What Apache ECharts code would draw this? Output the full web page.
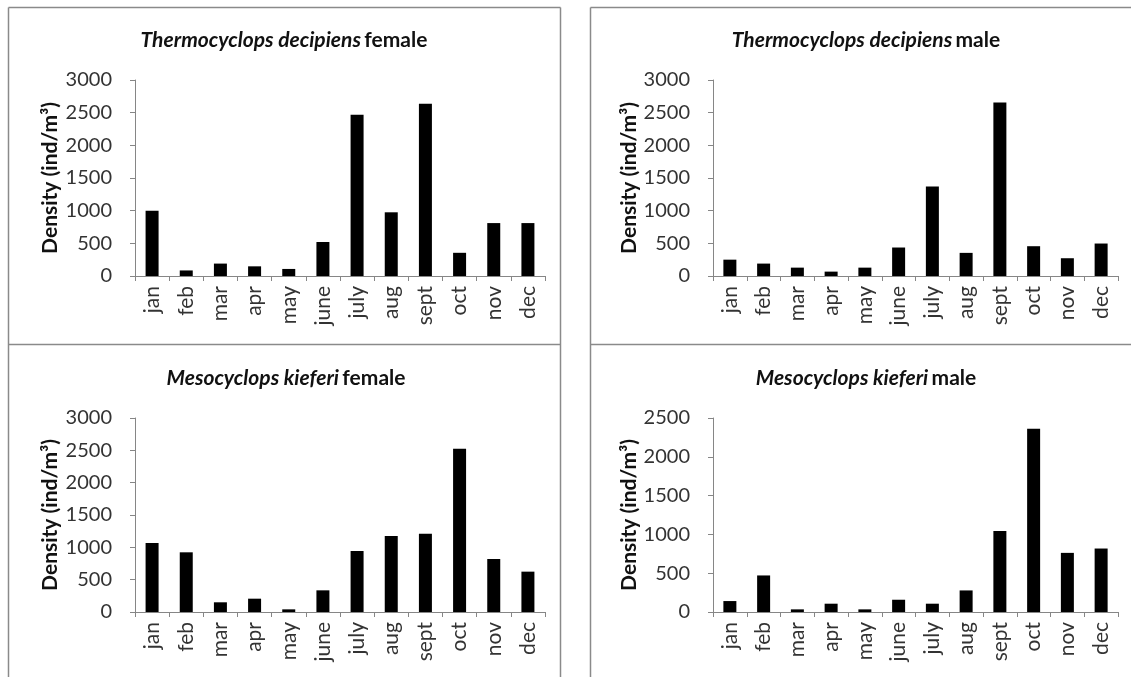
<!DOCTYPE html>
<html>
<head>
<meta charset="utf-8">
<title>Copepod density by month</title>
<script src="https://cdn.jsdelivr.net/npm/echarts@6/dist/echarts.min.js"></script>
<style>
  html, body { margin: 0; padding: 0; background: #ffffff; }
  #chart { width: 1131px; height: 677px; }
</style>
</head>
<body>
<div id="chart"></div>
<script>
// Monthly densities (ind/m³)
const months = ['jan', 'feb', 'mar', 'apr', 'may', 'june', 'july', 'aug', 'sept', 'oct', 'nov', 'dec'];
const thermoFemale = [1000, 85, 190, 148, 108, 520, 2470, 975, 2635, 355, 810, 810];
const thermoMale = [250, 190, 128, 67, 128, 436, 1369, 354, 2656, 456, 272, 497];
const mesoFemale = [1067, 923, 150, 206, 41, 335, 943, 1175, 1211, 2526, 820, 624];
const mesoMale = [141, 471, 34, 107, 34, 158, 107, 278, 1045, 2363, 762, 818];

const speciesNames = ['Thermocyclops decipiens', 'Thermocyclops decipiens', 'Mesocyclops kieferi', 'Mesocyclops kieferi'];
const sexNames = ['female', 'male', 'female', 'male'];
const yMaxes = [3000, 3000, 3000, 2500];
const yName = 'Density (ind/m³)';

const FONT = 'Lato, "Open Sans", sans-serif';
const AXIS_GRAY = '#868686';
const BORDER_GRAY = '#8a8a8a';

const seriesData = [thermoFemale, thermoMale, mesoFemale, mesoMale];

// Plot areas of the four panels
const grids = [
  { left: 135, top: 80, width: 410, height: 196 },
  { left: 713, top: 80, width: 405, height: 196 },
  { left: 135, top: 418, width: 410, height: 194 },
  { left: 713, top: 418, width: 405, height: 194 }
];
const titleCenters = [[284, 40], [866, 40], [286, 378], [866, 378]];

const xAxes = grids.map((g, i) => ({
  type: 'category',
  gridIndex: i,
  data: months,
  axisLine: { lineStyle: { color: AXIS_GRAY, width: 1 } },
  axisTick: { show: true, length: 5, lineStyle: { color: AXIS_GRAY } },
  axisLabel: { rotate: 90, margin: 10, fontFamily: FONT, fontSize: 21, color: '#333333', interval: 0 }
}));

const yAxes = grids.map((g, i) => ({
  type: 'value',
  gridIndex: i,
  min: 0,
  max: yMaxes[i],
  interval: 500,
  name: yName,
  nameLocation: 'middle',
  nameGap: i % 2 === 0 ? 74 : 72,
  nameTextStyle: { fontFamily: FONT, fontSize: 21, fontWeight: 'bold', color: '#111111' },
  axisLine: { show: true, lineStyle: { color: AXIS_GRAY, width: 1 } },
  axisTick: { show: true, length: 5, lineStyle: { color: AXIS_GRAY } },
  axisLabel: { margin: 23, fontFamily: FONT, fontSize: 20, color: '#333333', formatter: v => String(v) },
  splitLine: { show: false }
}));

const series = seriesData.map((d, i) => ({
  type: 'bar',
  xAxisIndex: i,
  yAxisIndex: i,
  data: d,
  barWidth: 13,
  itemStyle: { color: '#000000' },
  silent: true
}));

// Panel titles: species in bold italic, sex in bold
const titleGraphics = titleCenters.map((c, i) => ({
  type: 'text',
  x: c[0],
  y: c[1],
  style: {
    text: '{sp|' + speciesNames[i] + '} {sx|' + sexNames[i] + '}',
    align: 'center',
    verticalAlign: 'middle',
    rich: {
      sp: { fontFamily: FONT, fontSize: 21, fontWeight: 'bold', fontStyle: 'italic', fill: '#111111' },
      sx: { fontFamily: FONT, fontSize: 21, fontWeight: 'bold', fill: '#111111' }
    }
  }
}));

// Panel frame lines
const frameLines = [
  [8.5, 7.5, 560.5, 7.5],
  [8.5, 344.5, 560.5, 344.5],
  [8.5, 7.5, 8.5, 677],
  [560.5, 7.5, 560.5, 677],
  [590.5, 7.5, 1131, 7.5],
  [590.5, 344.5, 1131, 344.5],
  [590.5, 7.5, 590.5, 677]
].map(p => ({
  type: 'line',
  shape: { x1: p[0], y1: p[1], x2: p[2], y2: p[3] },
  style: { stroke: BORDER_GRAY, lineWidth: 1.5 },
  silent: true
}));

const chart = echarts.init(document.getElementById('chart'), null, { renderer: 'canvas' });
chart.setOption({
  animation: false,
  backgroundColor: '#ffffff',
  grid: grids,
  xAxis: xAxes,
  yAxis: yAxes,
  series: series,
  graphic: frameLines.concat(titleGraphics)
});
</script>
</body>
</html>
